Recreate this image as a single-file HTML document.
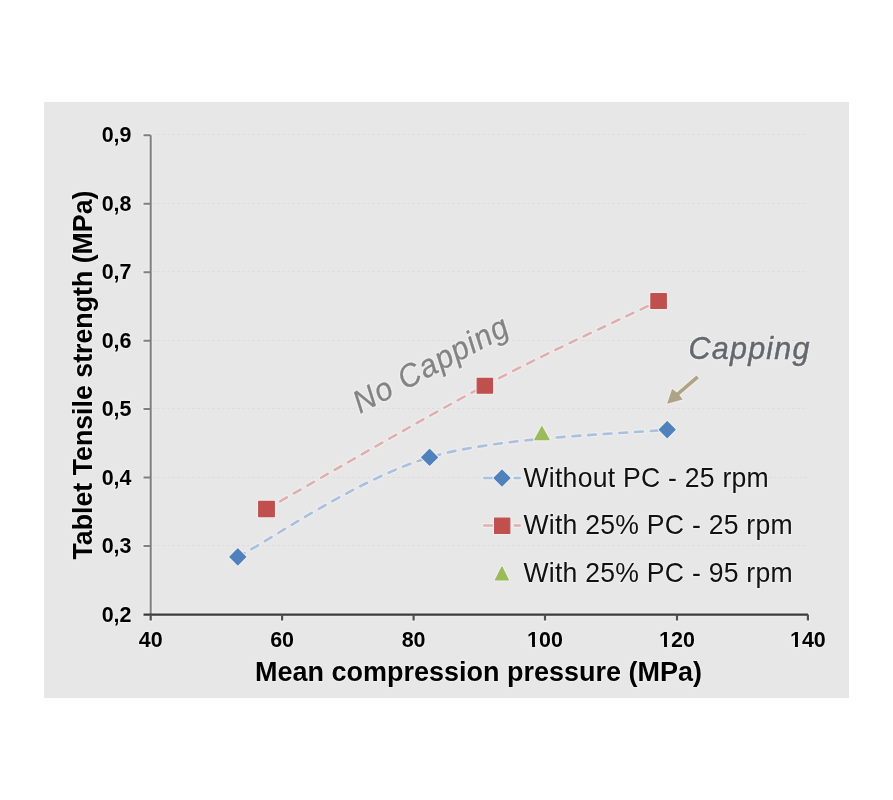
<!DOCTYPE html>
<html><head><meta charset="utf-8">
<title>Tablet tensile strength chart</title>
<style>
html,body{margin:0;padding:0;background:#fff;}
body{width:893px;height:800px;overflow:hidden;}
svg{display:block;will-change:transform;}
text{font-family:"Liberation Sans",Arial,sans-serif;}
.h{paint-order:stroke;stroke:#eeeeee;stroke-width:2.2px;stroke-linejoin:round;}
.tk{font-weight:bold;font-size:21.5px;fill:#000;}
.tt{font-weight:bold;font-size:27px;fill:#000;}
.lg{font-size:26.6px;fill:#111;letter-spacing:0.24px;}
.ann{font-style:italic;font-size:30.5px;fill:#787878;}
.annh{stroke:#eeeeee;stroke-width:2.8px;stroke-linejoin:round;fill:#eeeeee;}
.annf{fill:#838383;stroke:#838383;stroke-width:0.25px;}
.c2{fill:#65676d;stroke:#65676d;stroke-width:0.45px;}
</style></head>
<body>
<svg width="893" height="800" viewBox="0 0 893 800">
<rect x="0" y="0" width="893" height="800" fill="#ffffff"/>
<rect x="44" y="102" width="805" height="596" fill="#e7e7e7"/>

<g stroke="#dedede" stroke-width="1" stroke-dasharray="3 2" fill="none">
<path d="M152,134.5H808"/>
<path d="M152,203.5H808"/>
<path d="M152,271.5H808"/>
<path d="M152,340.5H808"/>
<path d="M152,408.5H808"/>
<path d="M152,477.5H479M769,477.5H808"/>
<path d="M152,545.5H808"/>
</g>
<g stroke="#eeeeee" fill="none" stroke-linecap="round">
<path d="M150.7,135.2V614.6M143.5,135.2H150.7M143.5,203.7H150.7M143.5,272.2H150.7M143.5,340.7H150.7M143.5,409.1H150.7M143.5,477.6H150.7M143.5,546.1H150.7" stroke-width="4.2"/>
<path d="M143.5,614.6H808M150.7,614.6V620.5M282.1,614.6V620.5M413.6,614.6V620.5M545.0,614.6V620.5M677.0,614.6V620.5M807.9,614.6V620.5" stroke-width="4.4"/>
</g>
<g stroke="#7f7f7f" stroke-width="2" fill="none">
<path d="M150.7,135.2V614.6"/>
<path d="M143.5,135.2H150.7M143.5,203.7H150.7M143.5,272.2H150.7M143.5,340.7H150.7M143.5,409.1H150.7M143.5,477.6H150.7M143.5,546.1H150.7"/>
</g>
<g stroke="#3a3a3a" stroke-width="2.2" fill="none">
<path d="M143.5,614.6H808"/>
<path d="M150.7,614.6V620.5M282.1,614.6V620.5M413.6,614.6V620.5M545.0,614.6V620.5M677.0,614.6V620.5M807.9,614.6V620.5" stroke="#505050"/>
</g>
<g class="tk h" text-anchor="end">
<text class="tk h" transform="translate(131.50,142.40) scale(1,1.045)">0,9</text>
<text class="tk h" transform="translate(131.50,210.89) scale(1,1.045)">0,8</text>
<text class="tk h" transform="translate(131.50,279.37) scale(1,1.045)">0,7</text>
<text class="tk h" transform="translate(131.50,347.86) scale(1,1.045)">0,6</text>
<text class="tk h" transform="translate(131.50,416.34) scale(1,1.045)">0,5</text>
<text class="tk h" transform="translate(131.50,484.83) scale(1,1.045)">0,4</text>
<text class="tk h" transform="translate(131.50,553.32) scale(1,1.045)">0,3</text>
<text class="tk h" transform="translate(131.50,621.80) scale(1,1.045)">0,2</text>
</g>
<g class="tk h" text-anchor="middle">
<text class="tk h" transform="translate(150.70,647.00) scale(1,1.045)">40</text>
<text class="tk h" transform="translate(282.10,647.00) scale(1,1.045)">60</text>
<text class="tk h" transform="translate(413.60,647.00) scale(1,1.045)">80</text>
<text class="tk h" transform="translate(545.00,647.00) scale(1,1.045)">100</text>
<text class="tk h" transform="translate(677.00,647.00) scale(1,1.045)">120</text>
<text class="tk h" transform="translate(807.90,647.00) scale(1,1.045)">140</text>
</g>
<g fill="#e7e7e7">
<rect x="527.36" y="643.9" width="4.72" height="4.6"/>
<rect x="535.03" y="643.9" width="4.59" height="4.6"/>
<rect x="659.36" y="643.9" width="4.72" height="4.6"/>
<rect x="667.03" y="643.9" width="4.59" height="4.6"/>
<rect x="790.26" y="643.9" width="4.72" height="4.6"/>
<rect x="797.93" y="643.9" width="4.59" height="4.6"/>
</g>
<text class="tt h" transform="translate(255.10,680.70) scale(1,1.025)">Mean compression pressure (MPa)</text>
<text class="tt h" transform="translate(91.50,559.50) rotate(-90) scale(1,1.025)" style="font-size:26.75px">Tablet Tensile strength (MPa)</text>
<path d="M266.6,509.0 C303.0,488.4 419.7,420.2 485.0,385.5 C550.3,350.8 629.6,315.1 658.5,301.0" fill="none" stroke="#eeeeee" stroke-width="4.9" stroke-dasharray="7.8 7.9" stroke-linecap="round"/>
<path d="M237.8,556.9 C269.7,540.3 358.0,478.5 429.6,457.3 C501.2,436.1 627.5,434.1 667.1,429.5" fill="none" stroke="#eeeeee" stroke-width="4.9" stroke-dasharray="7.8 7.9" stroke-linecap="round"/>
<path d="M266.6,509.0 C303.0,488.4 419.7,420.2 485.0,385.5 C550.3,350.8 629.6,315.1 658.5,301.0" fill="none" stroke="#e1aeae" stroke-width="2.5" stroke-dasharray="7.8 7.9" stroke-linecap="round"/>
<path d="M237.8,556.9 C269.7,540.3 358.0,478.5 429.6,457.3 C501.2,436.1 627.5,434.1 667.1,429.5" fill="none" stroke="#a9c0de" stroke-width="2.6" stroke-dasharray="7.8 7.9" stroke-linecap="round"/>
<g fill="#eeeeee" stroke="#eeeeee" stroke-width="3.4" stroke-linejoin="round"><rect x="258.7" y="501.4" width="15.6" height="15.2"/><rect x="477.2" y="378.3" width="15.3" height="14.8"/><rect x="650.9" y="293.7" width="15.4" height="14.8"/></g>
<g fill="#c0504d" stroke="#c0504d" stroke-width="1.2" stroke-linejoin="round"><rect x="258.7" y="501.4" width="15.6" height="15.2"/><rect x="477.2" y="378.3" width="15.3" height="14.8"/><rect x="650.9" y="293.7" width="15.4" height="14.8"/></g>
<g fill="#eeeeee" stroke="#eeeeee" stroke-width="3.4" stroke-linejoin="round"><path d="M237.8,549.0L245.7,556.9L237.8,564.8L229.9,556.9Z"/><path d="M429.6,449.4L437.5,457.3L429.6,465.2L421.7,457.3Z"/><path d="M667.2,421.7L675.1,429.6L667.2,437.5L659.3,429.6Z"/></g>
<g fill="#4f81bd" stroke="#4f81bd" stroke-width="1.2" stroke-linejoin="round"><path d="M237.8,549.0L245.7,556.9L237.8,564.8L229.9,556.9Z"/><path d="M429.6,449.4L437.5,457.3L429.6,465.2L421.7,457.3Z"/><path d="M667.2,421.7L675.1,429.6L667.2,437.5L659.3,429.6Z"/></g>
<g fill="#eeeeee" stroke="#eeeeee" stroke-width="3.4" stroke-linejoin="round"><path d="M541.9,426.7L549.1,439.7L534.7,439.7Z"/></g>
<g fill="#9bbb59" stroke="#9bbb59" stroke-width="1.2" stroke-linejoin="round"><path d="M541.9,426.7L549.1,439.7L534.7,439.7Z"/></g>
<text class="ann annh" style="letter-spacing:1.1px" transform="translate(360,414) rotate(-28) scale(1,1.050)">No Capping</text>
<text class="ann annh" style="letter-spacing:1.2px" transform="translate(688.6,358.5) scale(1,1.050)">Capping</text>
<text class="ann annf" style="letter-spacing:1.1px" transform="translate(360,414) rotate(-28) scale(1,1.050)">No Capping</text>
<text class="ann annf c2" style="letter-spacing:1.2px" transform="translate(688.6,358.5) scale(1,1.050)">Capping</text>
<path d="M696.5,375.6 L676.9,392.4 L672.1,389.1 L667.1,403.8 L682.6,399.6 L679.3,395.0 L698.9,378.2 Z" fill="#aea384" class="h" style="stroke-width:2.2px"/>
<g>
<path d="M484,478H494M514,478H520.5M484,525.5H494M514,525.5H520.5" stroke="#eeeeee" stroke-width="4.8" stroke-linecap="round" fill="none"/>
<path d="M484,478H494M514.5,478H520" stroke="#abc2df" stroke-width="2.3" stroke-linecap="round" fill="none"/>
<path d="M484,525.5H494M514.5,525.5H520" stroke="#e2b0b0" stroke-width="2.3" stroke-linecap="round" fill="none"/>
<g fill="#eeeeee" stroke="#eeeeee" stroke-width="3.4" stroke-linejoin="round"><path d="M502.0,470.2L509.8,478.0L502.0,485.8L494.2,478.0Z"/></g>
<g fill="#4f81bd" stroke="#4f81bd" stroke-width="1.2" stroke-linejoin="round"><path d="M502.0,470.2L509.8,478.0L502.0,485.8L494.2,478.0Z"/></g>
<g fill="#eeeeee" stroke="#eeeeee" stroke-width="3.4" stroke-linejoin="round"><rect x="494.6" y="518.2" width="15.2" height="15.2"/></g>
<g fill="#c0504d" stroke="#c0504d" stroke-width="1.2" stroke-linejoin="round"><rect x="494.6" y="518.2" width="15.2" height="15.2"/></g>
<g fill="#eeeeee" stroke="#eeeeee" stroke-width="3.4" stroke-linejoin="round"><path d="M501.9,567.1L508.4,579.9L495.4,579.9Z"/></g>
<g fill="#9bbb59" stroke="#9bbb59" stroke-width="1.2" stroke-linejoin="round"><path d="M501.9,567.1L508.4,579.9L495.4,579.9Z"/></g>
<text class="lg h" transform="translate(523.50,487.00) scale(1,1.044)">Without PC - 25 rpm</text>
<text class="lg h" transform="translate(523.50,534.00) scale(1,1.044)">With 25% PC - 25 rpm</text>
<text class="lg h" transform="translate(523.50,582.00) scale(1,1.044)">With 25% PC - 95 rpm</text>
</g>
</svg>
</body></html>
